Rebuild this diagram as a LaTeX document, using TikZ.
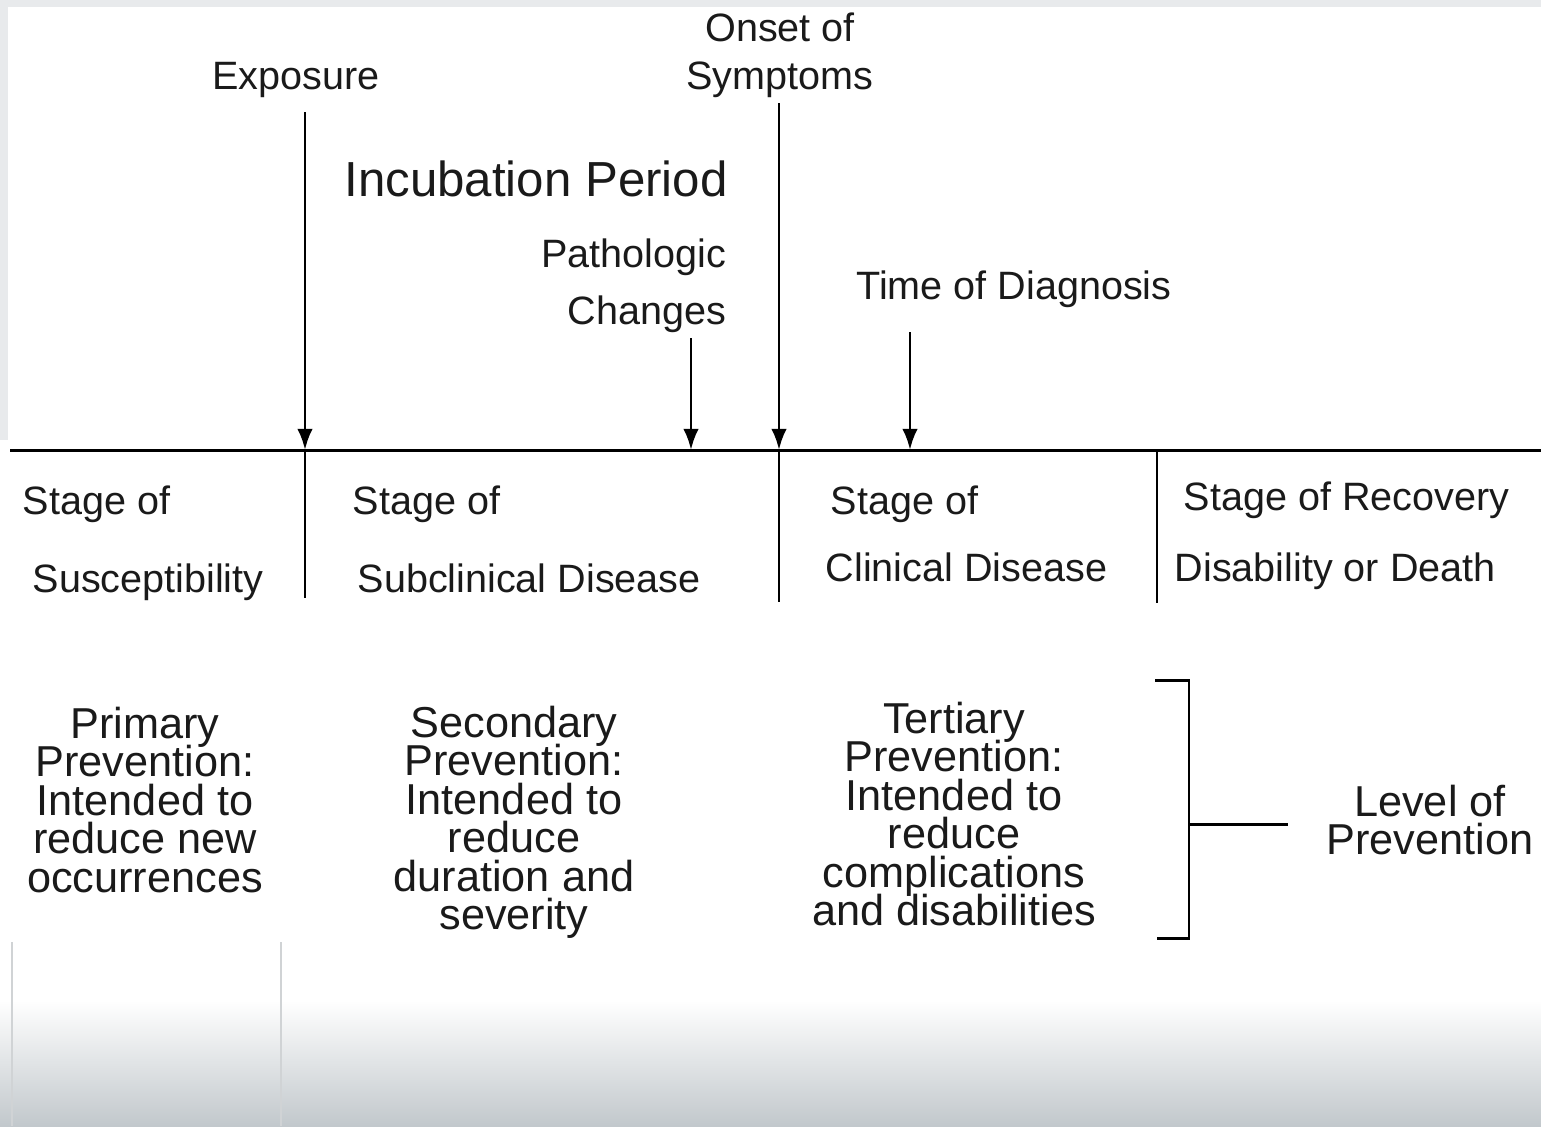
\documentclass[tikz,border=0pt]{standalone}
\usepackage{fontspec}
\setmainfont{Liberation Sans}
\usetikzlibrary{arrows.meta,positioning}
\definecolor{edgeGray}{HTML}{E8EAEC}
\definecolor{shadeGray}{HTML}{C2C8CC}
\definecolor{ghostLine}{HTML}{D0D3D5}
\definecolor{inkGray}{HTML}{1A1A1A}
\newcommand{\tightlines}{\lineskiplimit=-20pt\relax}

\begin{document}
\begin{tikzpicture}[
    x=0.01cm, y=-0.01cm,
    lbl/.style={inner sep=0pt, anchor=base, text=inkGray, font=\fontsize{11.25pt}{13.5pt}\selectfont},
    lblw/.style={lbl, anchor=base west},
    bigtitle/.style={lbl, font=\fontsize{14pt}{16pt}\selectfont},
    prevtxt/.style={inner sep=0pt, anchor=north, align=center, text=inkGray,
      font=\fontsize{12.3pt}{10.95pt}\selectfont\tightlines},
    axisline/.style={line width=0.85pt},
    eventarr/.style={-{Latex[length=6pt,width=4.4pt]}, line width=0.85pt}
  ]
  % screen background
  \useasboundingbox (0,0) rectangle (1541,1126);
  \fill[white] (0,0) rectangle (1541,1126);
  \fill[edgeGray] (0,0) rectangle (1541,7);
  \fill[edgeGray] (0,0) rectangle (8,440);
  \shade[top color=white, bottom color=shadeGray] (0,1000) rectangle (1541,1126);
  \draw[ghostLine, line width=0.6pt] (12,942) -- (12,1126);
  \draw[ghostLine, line width=0.8pt] (281,942) -- (281,1126);

  % events above the time line
  \node[lbl] (exposure) at (296,89) {Exposure};
  \node[lbl, align=center, anchor=north, font=\fontsize{11.25pt}{13.7pt}\selectfont] (onset) at (780,12) {Onset of\\Symptoms};
  \node[bigtitle] (incub) at (536,196) {Incubation Period};
  \node[lbl, align=right, anchor=north east, font=\fontsize{11.25pt}{16.2pt}\selectfont] (patho) at (727,238) {Pathologic\\Changes};
  \node[lbl] (diag) at (1014,299) {Time of Diagnosis};

  \coordinate (expTop) at (305,112);
  \coordinate (expPt) at (305,450);
  \coordinate (patTop) at (691,338);
  \coordinate (patPt) at (691,450);
  \coordinate (onsTop) at (779,103);
  \coordinate (onsPt) at (779,450);
  \coordinate (diaTop) at (910,332);
  \coordinate (diaPt) at (910,450);
  \coordinate (axL) at (10,450);
  \coordinate (axR) at (1541,450);
  \coordinate (recPt) at (1157,450);

  \draw[axisline] (axL) -- (axR);
  \draw[eventarr] (expTop) -- (expPt);
  \draw[eventarr] (patTop) -- (patPt);
  \draw[eventarr] (onsTop) -- (onsPt);
  \draw[eventarr] (diaTop) -- (diaPt);

  % stage dividers
  \draw[axisline] (expPt) -- (305,598);
  \draw[axisline] (onsPt) -- (779,602);
  \draw[axisline] (recPt) -- (1157,603);

  % stages
  \node[lblw] (susc1) at (22,514) {Stage of};
  \node[lblw] (susc2) at (32,592) {Susceptibility};
  \node[lblw] (subc1) at (352,514) {Stage of};
  \node[lblw] (subc2) at (357,592) {Subclinical Disease};
  \node[lblw] (clin1) at (830,514) {Stage of};
  \node[lblw] (clin2) at (825,581) {Clinical Disease};
  \node[lblw] (reco1) at (1183,510) {Stage of Recovery};
  \node[lblw] (reco2) at (1174,581) {Disability or Death};

  % levels of prevention
  \node[prevtxt] (primary) at (145,706) {Primary\\Prevention:\\Intended to\\reduce new\\occurrences};
  \node[prevtxt] (secondary) at (514,705) {Secondary\\Prevention:\\Intended to\\reduce\\duration and\\severity};
  \node[prevtxt] (tertiary) at (954,701) {Tertiary\\Prevention:\\Intended to\\reduce\\complications\\and disabilities};

  \draw[axisline] (1155,680) -- (1189,680) -- (1189,938) -- (1157,938);
  \draw[axisline] (1189,824) -- (1288,824);
  \node[prevtxt] (level) at (1430,784) {Level of\\Prevention};
\end{tikzpicture}
\end{document}
